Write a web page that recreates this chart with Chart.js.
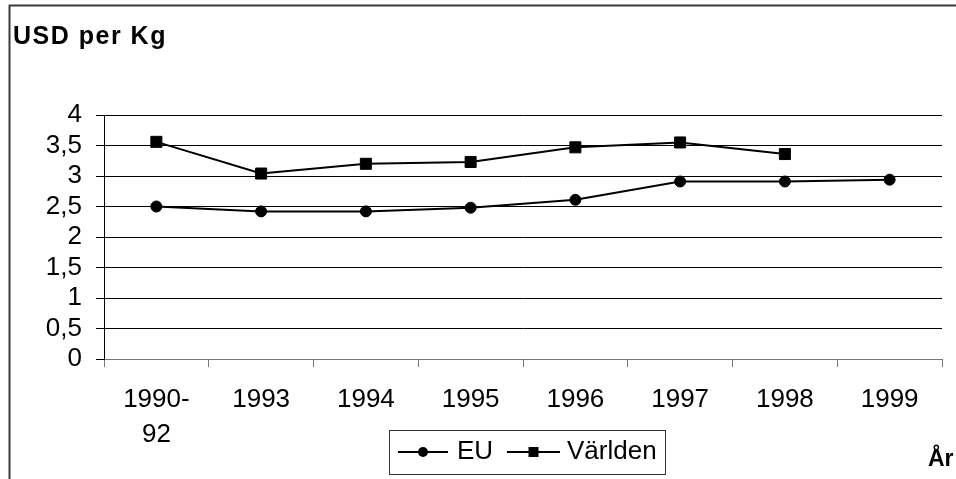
<!DOCTYPE html>
<html>
<head>
<meta charset="utf-8">
<script src="https://cdn.jsdelivr.net/npm/chart.js@4/dist/chart.umd.min.js"></script>
<style>
html,body{margin:0;padding:0;background:#fff;}
canvas{display:block;}
</style>
</head>
<body>
<canvas id="c" width="956" height="479"></canvas>
<script>
const categories = [['1990-', '92'], '1993', '1994', '1995', '1996', '1997', '1998', '1999'];
const euValues = [2.50, 2.42, 2.42, 2.48, 2.61, 2.91, 2.91, 2.94];
const worldValues = [3.56, 3.04, 3.20, 3.23, 3.47, 3.55, 3.36, null];
const seriesNames = ['EU', 'Världen'];
const yTicks = [0, 0.5, 1, 1.5, 2, 2.5, 3, 3.5, 4];
const titleText = 'USD per Kg';
const xAxisTitle = 'År';

const FONT = '"Liberation Sans", Arial, sans-serif';
Chart.defaults.color = '#000';
Chart.defaults.font.family = FONT;

const decor = {
  id: 'decor',
  afterDraw(chart) {
    const ctx = chart.ctx;
    ctx.save();
    // outer frame
    ctx.strokeStyle = '#3a3a3a';
    ctx.lineWidth = 2;
    ctx.beginPath();
    ctx.moveTo(9.5, 479);
    ctx.lineTo(9.5, 5.5);
    ctx.lineTo(956, 5.5);
    ctx.stroke();
    // title
    ctx.fillStyle = '#000';
    ctx.font = 'bold 25px ' + FONT;
    ctx.textBaseline = 'alphabetic';
    ctx.textAlign = 'left';
    try { ctx.letterSpacing = '1.5px'; } catch (e) {}
    ctx.fillText(titleText, 13, 44);
    try { ctx.letterSpacing = '0px'; } catch (e) {}
    // x-axis title
    ctx.font = 'bold 23px ' + FONT;
    ctx.fillText(xAxisTitle, 928, 466);
    // legend
    const lx = 389.5, ly = 430.5, lw = 276, lh = 44;
    ctx.strokeStyle = '#333';
    ctx.lineWidth = 1;
    ctx.strokeRect(lx, ly, lw, lh);
    const cy = 452;
    const items = [
      {x0: 398, x1: 448, tx: 457},
      {x0: 507, x1: 560, tx: 567}
    ];
    ctx.font = '26px ' + FONT;
    ctx.textBaseline = 'middle';
    chart.data.datasets.forEach((ds, i) => {
      const it = items[i];
      ctx.strokeStyle = ds.borderColor;
      ctx.lineWidth = 2;
      ctx.beginPath();
      ctx.moveTo(it.x0, cy);
      ctx.lineTo(it.x1, cy);
      ctx.stroke();
      const mx = (it.x0 + it.x1) / 2;
      ctx.fillStyle = ds.pointBackgroundColor;
      if (ds.pointStyle === 'rect') {
        ctx.fillRect(mx - 5, cy - 5, 10, 10);
      } else {
        ctx.beginPath();
        ctx.arc(mx, cy, 5, 0, Math.PI * 2);
        ctx.fill();
      }
      ctx.fillStyle = '#000';
      ctx.fillText(ds.label, it.tx, cy);
    });
    ctx.restore();
  }
};

new Chart(document.getElementById('c'), {
  type: 'line',
  data: {
    labels: categories,
    datasets: [
      {
        label: seriesNames[0],
        data: euValues,
        borderColor: '#000',
        backgroundColor: '#000',
        borderWidth: 2,
        pointStyle: 'circle',
        pointRadius: 5.5,
        pointBorderWidth: 1,
        pointBackgroundColor: '#000',
        pointBorderColor: '#000',
        tension: 0
      },
      {
        label: seriesNames[1],
        data: worldValues,
        borderColor: '#000',
        backgroundColor: '#000',
        borderWidth: 2,
        pointStyle: 'rect',
        pointRadius: 7.8,
        pointBorderWidth: 1,
        pointBackgroundColor: '#000',
        pointBorderColor: '#000',
        tension: 0,
        spanGaps: false
      }
    ]
  },
  options: {
    responsive: false,
    animation: false,
    events: [],
    layout: { padding: { left: 0, top: 115, right: 14, bottom: 0 } },
    plugins: { legend: { display: false }, title: { display: false }, tooltip: { enabled: false } },
    scales: {
      x: {
        type: 'category',
        offset: true,
        grid: { offset: true, drawOnChartArea: false, drawTicks: true, tickLength: 8, color: '#777', lineWidth: 1 },
        border: { display: true, color: '#777', width: 1 },
        ticks: { font: { size: 26, lineHeight: 1.35 }, padding: 15, maxRotation: 0, autoSkip: false, color: '#000' },
        afterFit(scale) { scale.height = 120; }
      },
      y: {
        min: 0,
        max: 4,
        afterBuildTicks(scale) { scale.ticks = yTicks.map(v => ({ value: v })); },
        grid: { color: '#000', lineWidth: 1, drawTicks: true, tickLength: 8 },
        border: { display: true, color: '#000', width: 1 },
        ticks: {
          font: { size: 26 },
          padding: 14,
          color: '#000',
          autoSkip: false,
          stepSize: 0.5,
          callback: v => String(v).replace('.', ',')
        },
        afterFit(scale) { scale.width = 104; }
      }
    }
  },
  plugins: [decor]
});
</script>
</body>
</html>
